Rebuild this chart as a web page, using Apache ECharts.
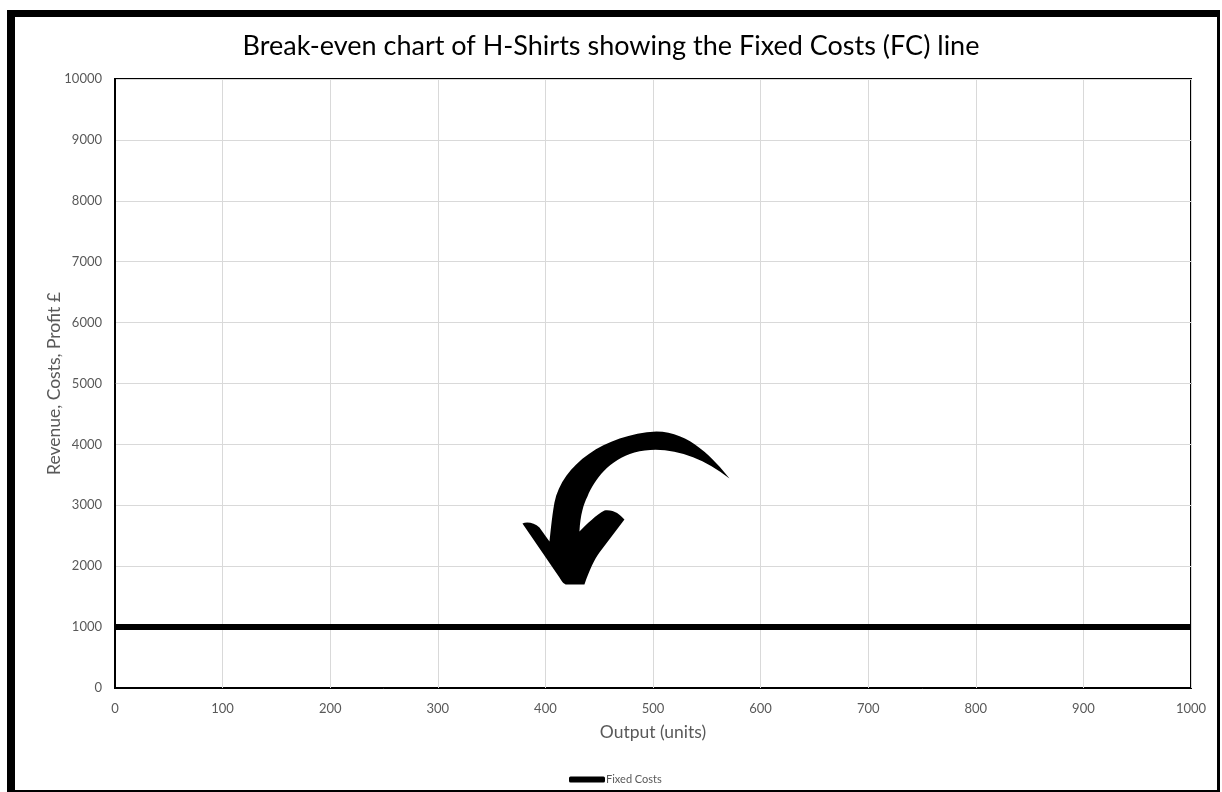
<!DOCTYPE html>
<html>
<head>
<meta charset="utf-8">
<script src="https://cdn.jsdelivr.net/npm/echarts@6/dist/echarts.min.js"></script>
<style>
  html, body { margin: 0; padding: 0; background: #fff; }
  #chart { width: 1222px; height: 792px; }
</style>
</head>
<body>
<div id="chart"></div>
<script>
// Output levels (units) and the fixed costs at each level (£)
const outputUnits = [0, 100, 200, 300, 400, 500, 600, 700, 800, 900, 1000];
const fixedCosts = [1000, 1000, 1000, 1000, 1000, 1000, 1000, 1000, 1000, 1000, 1000];

// Axis ranges
const xMin = 0, xMax = 1000, xStep = 100;
const yMin = 0, yMax = 10000, yStep = 1000;

// Where the curved pointer's tip sits, in data units
const pointerTip = [427, 1700];

const FONT = 'Lato, "Open Sans", sans-serif';
const GREY = '#595959';

const chart = echarts.init(document.getElementById('chart'), null, { renderer: 'canvas' });

// Hand-drawn style curved arrow, tip at local (0,0)
const arrowPath =
  'M155,-106 C140,-125 115,-153 82,-153 C30,-150 -12,-120 -20,-82 ' +
  'C-23,-65 -24,-50 -25,-43 L-35,-57 C-40,-62 -48,-63 -52,-61 ' +
  'L-15,-7 C-12,-2 -10,0 -8,0 L10,0 C15,-15 20,-25 25,-32 ' +
  'L50,-65 C45,-70 40,-75 30,-74 C22,-70 12,-60 5,-53 ' +
  'C6,-70 9,-80 13,-88 C20,-105 35,-125 60,-132 C90,-140 125,-130 155,-106 Z';

const option = {
  backgroundColor: '#ffffff',
  animation: false,
  title: {
    text: 'Break-even chart of H-Shirts showing the Fixed Costs (FC) line',
    left: 'center',
    top: 28,
    textStyle: { fontFamily: FONT, fontSize: 27, fontWeight: 'normal', color: '#000' }
  },
  legend: {
    bottom: 2,
    left: 564,
    itemWidth: 36,
    itemHeight: 6,
    icon: 'roundRect',
    textStyle: { fontFamily: FONT, fontSize: 11, color: GREY, padding: [0, 0, 0, -4] },
    data: ['Fixed Costs']
  },
  grid: {
    left: 115, right: 31, top: 79, bottom: 104,
    show: true,
    borderColor: '#000',
    borderWidth: 2,
    containLabel: false
  },
  xAxis: {
    type: 'value',
    min: xMin, max: xMax, interval: xStep,
    name: 'Output (units)',
    nameLocation: 'middle',
    nameGap: 35,
    nameMoveOverlap: false,
    nameTextStyle: { fontFamily: FONT, fontSize: 17.5, color: GREY },
    axisLine: { show: true, lineStyle: { color: '#000', width: 1 } },
    axisTick: { show: false },
    axisLabel: { fontFamily: FONT, fontSize: 13, color: GREY, margin: 14, formatter: v => String(v) },
    splitLine: { show: true, lineStyle: { color: '#d9d9d9', width: 1 } }
  },
  yAxis: {
    type: 'value',
    min: yMin, max: yMax, interval: yStep,
    name: 'Revenue, Costs, Profit £',
    nameLocation: 'middle',
    nameGap: 52,
    nameMoveOverlap: false,
    nameTextStyle: { fontFamily: FONT, fontSize: 17.5, color: GREY },
    axisLine: { show: true, lineStyle: { color: '#000', width: 1 } },
    axisTick: { show: false },
    axisLabel: { fontFamily: FONT, fontSize: 13, color: GREY, margin: 13, formatter: v => String(v) },
    splitLine: { show: true, lineStyle: { color: '#d9d9d9', width: 1 } }
  },
  series: [
    {
      name: 'Fixed Costs',
      type: 'line',
      data: outputUnits.map((u, i) => [u, fixedCosts[i]]),
      showSymbol: false,
      symbol: 'none',
      lineStyle: { color: '#000', width: 6 },
      itemStyle: { color: '#000' },
      z: 3
    },
    {
      // Curved pointer towards the fixed costs line
      name: 'pointer',
      type: 'custom',
      data: [pointerTip],
      silent: true,
      z: 4,
      renderItem: function (params, api) {
        const p = api.coord([api.value(0), api.value(1)]);
        return {
          type: 'path',
          x: p[0],
          y: p[1],
          shape: { pathData: arrowPath },
          style: { fill: '#000' }
        };
      }
    }
  ],
  graphic: [
    // Outer frame
    { type: 'rect', shape: { x: 7, y: 10, width: 1213, height: 7 }, style: { fill: '#000' }, silent: true, z: 10 },
    { type: 'rect', shape: { x: 7, y: 10, width: 8, height: 782 }, style: { fill: '#000' }, silent: true, z: 10 },
    { type: 'rect', shape: { x: 1217, y: 10, width: 3, height: 782 }, style: { fill: '#000' }, silent: true, z: 10 },
    { type: 'rect', shape: { x: 7, y: 790, width: 1213, height: 2 }, style: { fill: '#000' }, silent: true, z: 10 }
  ]
};

chart.setOption(option);
</script>
</body>
</html>
